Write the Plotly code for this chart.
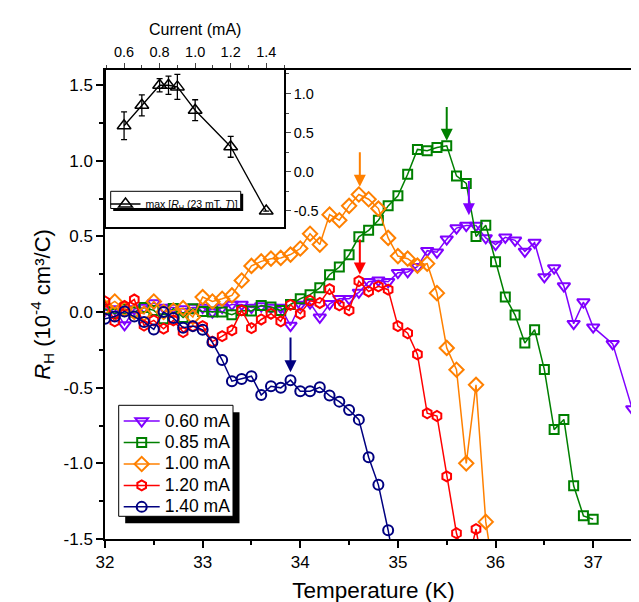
import plotly.graph_objects as go

# ---------------- data ----------------
T_060 = [32.0, 32.1, 32.2, 32.3, 32.4, 32.5, 32.6, 32.7, 32.8, 32.9,
         33.0, 33.1, 33.2, 33.3, 33.4, 33.5, 33.6, 33.7, 33.8, 33.9,
         34.0, 34.1, 34.2, 34.3, 34.4, 34.5, 34.6, 34.7, 34.8, 34.9,
         35.0, 35.1, 35.2, 35.3, 35.4, 35.5, 35.6, 35.7, 35.8, 35.9,
         36.0, 36.1, 36.2, 36.3, 36.4, 36.5, 36.6, 36.7, 36.8, 36.9,
         37.0, 37.2, 37.4, 37.6]
R_060 = [0.01, 0.02, -0.085, 0.02, 0.03, 0.06, 0.03, 0.03, 0.02, 0.03,
         0.03, 0.0, 0.03, 0.05, 0.05, 0.03, 0.04, 0.03, 0.03, -0.089,
         0.05, 0.06, -0.035, 0.055, 0.088, 0.088, 0.13, 0.20, 0.21, 0.20,
         0.26, 0.265, 0.30, 0.406, 0.395, 0.482, 0.555, 0.572, 0.572, 0.49,
         0.446, 0.494, 0.474, 0.401, 0.459, 0.232, 0.291, 0.172, -0.077, 0.066,
         -0.10, -0.21, -0.64, -0.45]

T_085 = [32.0, 32.1, 32.2, 32.3, 32.4, 32.5, 32.6, 32.7, 32.8, 32.9,
         33.0, 33.1, 33.2, 33.3, 33.4, 33.5, 33.6, 33.7, 33.8, 33.9,
         34.0, 34.1, 34.2, 34.3, 34.4, 34.5, 34.6, 34.7, 34.8, 34.9,
         35.0, 35.1, 35.2, 35.3, 35.4, 35.5, 35.6, 35.7, 35.8, 35.9,
         36.0, 36.1, 36.2, 36.3, 36.4, 36.5, 36.6, 36.7, 36.8, 36.9, 37.0]
R_085 = [0.02, -0.01, 0.02, 0.0, 0.03, 0.011, -0.044, 0.024, -0.036, 0.022,
         0.004, 0.0, 0.0, -0.018, 0.01, 0.007, 0.044, 0.033, 0.011, 0.05,
         0.088, 0.115, 0.16, 0.247, 0.298, 0.379, 0.497, 0.54, 0.607, 0.702,
         0.768, 0.911, 1.075, 1.066, 1.088, 1.099, 0.90, 0.85, 0.50, 0.574,
         0.333, 0.10, -0.02, -0.205, -0.117, -0.38, -0.777, -0.71, -1.148, -1.347, -1.369]

T_100 = [32.0, 32.1, 32.2, 32.3, 32.4, 32.5, 32.6, 32.7, 32.8, 32.9,
         33.0, 33.1, 33.2, 33.3, 33.4, 33.5, 33.6, 33.7, 33.8, 33.9,
         34.0, 34.1, 34.2, 34.3, 34.4, 34.5, 34.6, 34.7, 34.8, 34.9,
         35.0, 35.1, 35.2, 35.3, 35.4, 35.5, 35.6, 35.7, 35.8, 35.9, 36.0]
R_100 = [0.03, 0.07, 0.02, 0.0, -0.01, 0.07, 0.0, 0.01, 0.026, -0.033,
         0.099, 0.07, 0.088, 0.11, 0.209, 0.305, 0.335, 0.353, 0.358, 0.38,
         0.42, 0.518, 0.446, 0.644, 0.607, 0.702, 0.777, 0.746, 0.684, 0.49,
         0.37, 0.353, 0.307, 0.32, 0.125, -0.237, -0.381, -1.0, -0.481, -1.387, -1.8]

T_120 = [32.0, 32.1, 32.2, 32.3, 32.4, 32.5, 32.6, 32.7, 32.8, 32.9,
         33.0, 33.1, 33.2, 33.3, 33.4, 33.5, 33.6, 33.7, 33.8, 33.9,
         34.0, 34.1, 34.2, 34.3, 34.4, 34.5, 34.6, 34.7, 34.8, 34.9,
         35.0, 35.1, 35.2, 35.3, 35.4, 35.5, 35.6, 35.7, 35.8, 35.9]
R_120 = [0.07, -0.062, 0.04, 0.083, -0.089, -0.055, -0.11, -0.055, -0.132, -0.093,
         -0.093, -0.195, -0.159, -0.121, 0.011, -0.106, -0.049, -0.011, -0.062, 0.048,
         -0.011, 0.075, 0.06, 0.152, 0.044, 0.011, 0.205, 0.136, 0.17, 0.148,
         -0.093, -0.14, -0.28, -0.669, -0.687, -1.086, -1.462, -1.7, -1.435, -1.8]

T_140 = [32.0, 32.1, 32.2, 32.3, 32.4, 32.5, 32.6, 32.7, 32.8, 32.9,
         33.0, 33.1, 33.2, 33.3, 33.4, 33.5, 33.6, 33.7, 33.8, 33.9,
         34.0, 34.1, 34.2, 34.3, 34.4, 34.5, 34.6, 34.7, 34.8, 34.9, 35.0]
R_140 = [-0.044, -0.029, 0.004, -0.029, -0.066, -0.115, 0.0, -0.04, -0.104, -0.093,
         -0.117, -0.2, -0.317, -0.457, -0.442, -0.424, -0.548, -0.49, -0.501, -0.45,
         -0.523, -0.523, -0.497, -0.552, -0.592, -0.647, -0.711, -0.96, -1.142, -1.442, -1.8]

# arrows marking the maxima: (T, tip R, tail R)
arrow_T = [35.727, 35.50, 34.61, 34.61, 33.90]
arrow_tip = [0.64, 1.132, 0.828, 0.249, -0.397]
arrow_tail = [0.876, 1.366, 1.066, 0.49, -0.159]

# inset
I_mA = [0.6, 0.7, 0.8, 0.85, 0.9, 1.0, 1.2, 1.4]
R_max = [0.587, 0.849, 1.105, 1.105, 1.084, 0.786, 0.319, -0.503]
R_err = [0.177, 0.134, 0.085, 0.117, 0.16, 0.134, 0.134, 0.0]

labels = ["0.60 mA", "0.85 mA", "1.00 mA", "1.20 mA", "1.40 mA"]
colors = ["#8000FF", "#008000", "#FF8000", "#FF0000", "#000080"]
symbols = ["triangle-down-open", "square-open", "diamond-open", "hexagon-open", "circle-open"]
sizes = [11, 9, 11, 10, 10]

FONT = "Liberation Sans, Arial, sans-serif"

fig = go.Figure()
series = [(T_060, R_060), (T_085, R_085), (T_100, R_100), (T_120, R_120), (T_140, R_140)]
for (t, r), lab, c, s, sz in zip(series, labels, colors, symbols, sizes):
    fig.add_trace(go.Scatter(
        x=t, y=r, name='<span style="font-size:17.5px">%s</span>' % lab, mode="lines+markers",
        line=dict(color=c, width=1.5),
        marker=dict(symbol=s, size=sz, color=c, line=dict(color=c, width=2)),
        legend="legend"))

fig.add_trace(go.Scatter(
    x=I_mA, y=R_max, mode="lines+markers", name="max [<i>R</i><sub>H</sub> (23 mT, <i>T</i>)]",
    xaxis="x2", yaxis="y2", legend="legend2",
    line=dict(color="black", width=1.3),
    marker=dict(symbol="triangle-up-open", size=12, color="black", line=dict(color="black", width=1.5)),
    error_y=dict(type="data", array=R_err, visible=True, color="black", thickness=1.3, width=3)))

for t, tip, tail, c in zip(arrow_T, arrow_tip, arrow_tail, colors):
    fig.add_annotation(x=t, y=tip, ax=t, ay=tail, xref="x", yref="y", axref="x", ayref="y",
                       text="", showarrow=True, arrowhead=2, arrowsize=1.2, arrowwidth=2,
                       arrowcolor=c, standoff=0)

# layout geometry (pixels)
W, H = 639, 602
L, R_, Tm, B = 97, 5, 62, 71
pw, ph = W - L - R_, H - Tm - B
def px(xp):
    return min(1.0, max(0.0, (xp - L) / pw))
def py(yp):
    return min(1.0, max(0.0, (H - B - yp) / ph))

# legend frames with drop shadows (drawn as shapes, legend text on top)
def framed_box(x0, y0, x1, y1, dx, dy):
    fig.add_shape(type="rect", xref="paper", yref="paper",
                  x0=px(x0 + dx), x1=px(x1 + dx), y0=py(y1 + dy), y1=py(y0 + dy),
                  fillcolor="black", line=dict(width=0), layer="above")
    fig.add_shape(type="rect", xref="paper", yref="paper",
                  x0=px(x0), x1=px(x1), y0=py(y1), y1=py(y0),
                  fillcolor="white", line=dict(color="black", width=1), layer="above")

framed_box(110.7, 397.3, 225.0, 508.3, 6.5, 7.0)
framed_box(102.7, 183.3, 232.7, 200.5, 2.5, 2.5)

axis_common = dict(showline=True, linecolor="black", linewidth=1.5, mirror=True, automargin=False,
                   showgrid=False, zeroline=False, ticks="outside", tickcolor="black",
                   tickwidth=1.5, tickfont=dict(family=FONT, size=17, color="black"))

fig.update_layout(
    width=W, height=H,
    margin=dict(l=L, r=R_, t=Tm, b=B, pad=0, autoexpand=False),
    paper_bgcolor="white", plot_bgcolor="white",
    font=dict(family=FONT, color="black"),
    xaxis=dict(range=[32, 37.5], dtick=1, ticklen=7,
               minor=dict(dtick=0.5, ticklen=4, ticks="outside", tickcolor="black", tickwidth=1.5),
               title=dict(text="Temperature (K)", font=dict(size=22.5, family=FONT), standoff=11),
               **axis_common),
    yaxis=dict(range=[-1.5, 1.6], tickvals=[-1.5, -1.0, -0.5, 0.0, 0.5, 1.0, 1.5],
               ticktext=["-1.5", "-1.0", "-0.5", "0.0", "0.5", "1.0", "1.5"], ticklen=7,
               minor=dict(dtick=0.25, ticklen=4, ticks="outside", tickcolor="black", tickwidth=1.5),
               title=dict(text="<i>R</i><sub>H</sub> (10<sup>-4</sup> cm³/C)", font=dict(size=22, family=FONT), standoff=7),
               **axis_common),
    xaxis2=dict(domain=[px(98.3), px(276)], anchor="y2", side="top", range=[0.5, 1.5], automargin=False,
                tickvals=[0.6, 0.8, 1.0, 1.2, 1.4], ticktext=["0.6", "0.8", "1.0", "1.2", "1.4"],
                showline=True, linecolor="black", linewidth=1.5, mirror=True,
                showgrid=False, zeroline=False, ticks="outside", ticklen=5, tickwidth=1.2,
                minor=dict(dtick=0.1, ticklen=3, ticks="outside", tickwidth=1.2),
                tickfont=dict(family=FONT, size=14.5, color="black"),
                title=dict(text="Current (mA)", font=dict(size=16, family=FONT), standoff=5)),
    yaxis2=dict(domain=[py(218.5), py(61)], anchor="x2", side="right", range=[-0.7, 1.3], automargin=False,
                tickvals=[-0.5, 0.0, 0.5, 1.0], ticktext=["-0.5", "0.0", "0.5", "1.0"],
                showline=True, linecolor="black", linewidth=1.5, mirror=True,
                showgrid=False, zeroline=False, ticks="outside", ticklen=5, tickwidth=1.2,
                minor=dict(dtick=0.25, ticklen=3, ticks="outside", tickwidth=1.2),
                tickfont=dict(family=FONT, size=14.5, color="black")),
    legend=dict(x=px(110.7), y=py(397.3), xanchor="left", yanchor="top",
                bgcolor="rgba(0,0,0,0)", borderwidth=0,
                font=dict(family=FONT, size=14.2, color="black"),
                itemwidth=36, tracegroupgap=0),
    legend2=dict(x=px(97.5), y=py(181.5), xanchor="left", yanchor="top",
                 bgcolor="rgba(0,0,0,0)", borderwidth=0,
                 font=dict(family=FONT, size=10.5, color="black"),
                 itemwidth=30),
    showlegend=True,
)

fig.write_html("out.html")
